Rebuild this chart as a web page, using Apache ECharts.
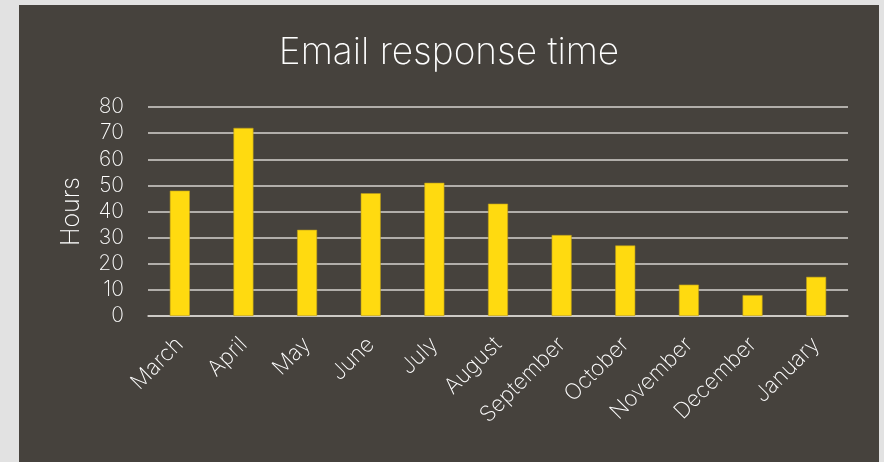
<!DOCTYPE html>
<html>
<head>
<meta charset="utf-8">
<script src="https://cdn.jsdelivr.net/npm/echarts@6/dist/echarts.min.js"></script>
<style>
  html, body { margin: 0; padding: 0; width: 884px; height: 462px; background: #e2e2e2; overflow: hidden; }
  #chart { position: absolute; left: 19px; top: 5px; width: 860px; height: 457px; background: #46423d; }
</style>
</head>
<body>
<div id="chart"></div>
<script>
  // Monthly average email response time, in hours
  const months = ['March', 'April', 'May', 'June', 'July', 'August', 'September', 'October', 'November', 'December', 'January'];
  const hours = [48, 72, 33, 47, 51, 43, 31, 27, 12, 8, 15];
  const yTicks = { min: 0, max: 80, step: 10 };

  const font = 'Inter';
  const chart = echarts.init(document.getElementById('chart'), null, { renderer: 'canvas' });
  chart.setOption({
    animation: false,
    title: {
      text: 'Email response time',
      left: 'center',
      top: 24,
      textStyle: { color: '#ffffff', fontFamily: font, fontWeight: 200, fontSize: 37 }
    },
    grid: { left: 129, right: 31, top: 102, bottom: 146 },
    xAxis: {
      type: 'category',
      data: months,
      axisTick: { show: false },
      axisLine: { lineStyle: { color: '#d6d3cf', width: 1.5 } },
      axisLabel: {
        rotate: 45,
        interval: 0,
        color: '#ffffff',
        fontFamily: font,
        fontWeight: 200,
        fontSize: 22,
        margin: 25
      }
    },
    yAxis: {
      type: 'value',
      min: yTicks.min,
      max: yTicks.max,
      interval: yTicks.step,
      name: 'Hours',
      nameLocation: 'middle',
      nameGap: 64,
      nameRotate: 90,
      nameTextStyle: { color: '#ffffff', fontFamily: font, fontWeight: 200, fontSize: 25 },
      axisLine: { show: false },
      axisTick: { show: false },
      axisLabel: { color: '#ffffff', fontFamily: font, fontWeight: 200, fontSize: 21, margin: 24 },
      splitLine: { lineStyle: { color: '#d6d3cf', width: 1.5 } }
    },
    series: [{
      type: 'bar',
      data: hours,
      barWidth: 20,
      itemStyle: { color: '#ffda10', borderColor: '#b89a1c', borderWidth: 0.6 }
    }]
  });
</script>
</body>
</html>
